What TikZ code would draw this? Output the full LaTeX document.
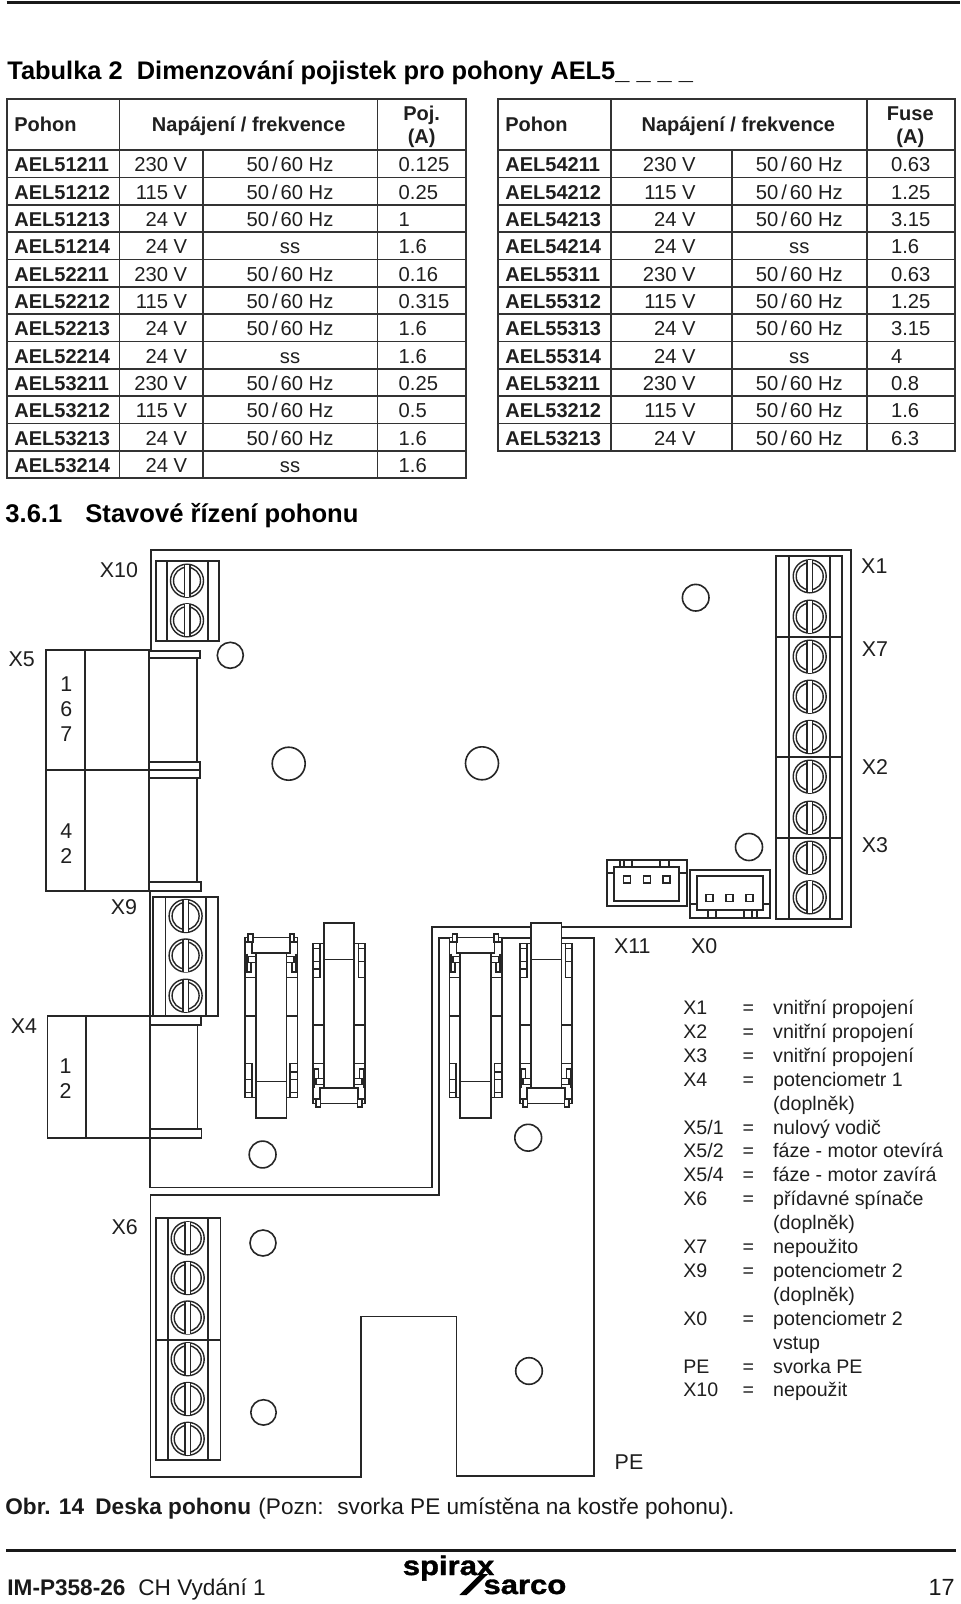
\documentclass[tikz,border=0pt]{standalone}
\usepackage{fontspec}
\setmainfont{Liberation Sans}
\newfontfamily\logofont[BoldFeatures={FakeBold=1.2}]{Liberation Sans}
\newcommand\hz{50\kern1.5pt/\kern1.5pt60 Hz}
\newcommand\sz[1]{\fontsize{#1pt}{#1pt}\selectfont}
\tikzset{
  cell/.style={font=\sz{10.1},inner sep=0,text=black!88},
  cellb/.style={font=\sz{10}\bfseries,inner sep=0,text=black!88},
  lbl/.style={font=\sz{10.7},inner sep=0,text=black!88},
  leg/.style={font=\sz{9.8},inner sep=0,text=black!88},
  head/.style={font=\sz{12.7}\bfseries,inner sep=0},
  capt/.style={font=\sz{11.3},inner sep=0,text=black!90},
  capb/.style={font=\sz{11.3}\bfseries,inner sep=0,text=black!90},
  grid/.style={line width=0.85pt,draw=black!80},
  ln/.style={line width=0.85pt,draw=black!85},
  hole/.style={line width=0.8pt,draw=black!85},
  screw/.pic={
    \draw[ln,line width=0.7pt] (0,0) circle[radius=16.5];
    \draw[ln,line width=0.7pt] (0,0) circle[radius=13.5];
    \fill[white] (-2.8,-16) rectangle (2.8,16);
    \draw[ln,line width=0.7pt] (-2.8,-16.2) -- (-2.8,16.2) (2.8,-16.2) -- (2.8,16.2);
  },
  relay/.pic={
    % body with tab
    \filldraw[ln,fill=white] (-26.2,-83.8) rectangle (26.2,71.5);
    \filldraw[ln,fill=white] (-19,-88.5) rectangle (19,-73);
    \filldraw[ln,fill=white] (-15.3,-73) rectangle (15.3,91.8);
    \draw[ln] (-15.3,55.5) -- (15.3,55.5);
    % top pins
    \filldraw[ln,fill=white] (-26.2,-88.5) rectangle (-19,-83.8);
    \filldraw[ln,fill=white] (19,-88.5) rectangle (26.2,-83.8);
    \filldraw[ln,fill=white] (-23,-91.8) rectangle (-18.5,-83.8);
    \filldraw[ln,fill=white] (18.5,-91.8) rectangle (23,-83.8);
    % latches
    \draw[ln] (-24.5,-72.5) -- (-24.5,-54) -- (-20.5,-54) -- (-20.5,-63);
    \draw[ln] (24.5,-72.5) -- (24.5,-54) -- (20.5,-54) -- (20.5,-63);
    \draw[ln] (-22.8,-69.5) rectangle (-15.3,-63.5);
    \draw[ln] (15.3,-69.5) rectangle (22.8,-63.5);
    % strip divisions
    \draw[ln] (-26.2,-48.5) -- (-15.3,-48.5) (15.3,-48.5) -- (26.2,-48.5);
    \draw[ln] (-26.2,-10) -- (-15.3,-10) (15.3,-10) -- (26.2,-10);
    % lower blocks
    \draw[ln] (-26.2,37.5) rectangle (-19.5,71.5);
    \draw[ln] (-26.2,53.5) -- (-19.5,53.5) (-26.2,66.5) -- (-19.5,66.5);
    \draw[ln] (19,37.5) rectangle (26.2,71.5);
    \draw[ln] (19,45.8) -- (26.2,45.8) (19,53.5) -- (26.2,53.5) (19,66.5) -- (26.2,66.5);
  }
}
\begin{document}
\begin{tikzpicture}[x=0.5pt,y=-0.5pt]
\useasboundingbox (0,0) rectangle (960,1604);
\fill[white] (0,0) rectangle (960,1604);

% rules
\draw[line width=1.5pt,black!90] (6.5,2.7) -- (960,2.7);
\draw[line width=1.6pt,black!90] (6,1550.7) -- (956,1550.7);

% headings
\node[head,anchor=base west] (t1a) at (7,80) {Tabulka 2};
\node[head,anchor=base west] (t1b) at (136.5,80) {Dimenzování pojistek pro pohony AEL5\_ \_ \_ \_};
\node[head,font=\sz{12.8}\bfseries,anchor=base west] (s1) at (5,522.7) {3.6.1};
\node[head,font=\sz{12.8}\bfseries,anchor=base west] (s2) at (85,522.7) {Stavové řízení pohonu};

% table 1
\draw[grid] (7,99) rectangle (466,478.3);
\draw[grid] (7,150) -- (466,150);
\draw[grid] (119.5,99) -- (119.5,478.3) (377.5,99) -- (377.5,478.3) (203,150) -- (203,478.3);
\foreach \i in {1,...,11} \draw[grid] (7,{150+27.36*\i}) -- (466,{150+27.36*\i});
\node[cellb,anchor=base west] (h1) at (14,132) {Pohon};
\node[cellb,anchor=base] (h2) at (248.7,132) {Napájení / frekvence};
\node[cellb,anchor=base] (h3) at (421.7,120.5) {Poj.};
\node[cellb,anchor=base] (h4) at (421.7,144) {(A)};
\foreach \n/\v/\h/\f [count=\i from 0] in {
 AEL51211/230 V/\hz/0.125, AEL51212/115 V/\hz/0.25, AEL51213/24 V/\hz/1, AEL51214/24 V/ss/1.6,
 AEL52211/230 V/\hz/0.16, AEL52212/115 V/\hz/0.315, AEL52213/24 V/\hz/1.6, AEL52214/24 V/ss/1.6,
 AEL53211/230 V/\hz/0.25, AEL53212/115 V/\hz/0.5, AEL53213/24 V/\hz/1.6, AEL53214/24 V/ss/1.6}{
  \node[cellb,anchor=base west] (an\i) at (14,{171.7+27.36*\i}) {\n};
  \node[cell,anchor=base east] (av\i) at (187.5,{171.7+27.36*\i}) {\v};
  \node[cell,anchor=base] (ah\i) at (290,{171.7+27.36*\i}) {\h};
  \node[cell,anchor=base west] (af\i) at (398.3,{171.7+27.36*\i}) {\f};
}

% table 2
\draw[grid] (497.7,99) rectangle (954.7,451);
\draw[grid] (497.7,150) -- (954.7,150);
\draw[grid] (610.7,99) -- (610.7,451) (866.7,99) -- (866.7,451) (732.3,150) -- (732.3,451);
\foreach \i in {1,...,10} \draw[grid] (497.7,{150+27.36*\i}) -- (954.7,{150+27.36*\i});
\node[cellb,anchor=base west] (k1) at (505,132) {Pohon};
\node[cellb,anchor=base] (k2) at (738.3,132) {Napájení / frekvence};
\node[cellb,anchor=base] (k3) at (910.3,120.5) {Fuse};
\node[cellb,anchor=base] (k4) at (910.3,144) {(A)};
\foreach \n/\v/\h/\f [count=\i from 0] in {
 AEL54211/230 V/\hz/0.63, AEL54212/115 V/\hz/1.25, AEL54213/24 V/\hz/3.15, AEL54214/24 V/ss/1.6,
 AEL55311/230 V/\hz/0.63, AEL55312/115 V/\hz/1.25, AEL55313/24 V/\hz/3.15, AEL55314/24 V/ss/4,
 AEL53211/230 V/\hz/0.8, AEL53212/115 V/\hz/1.6, AEL53213/24 V/\hz/6.3}{
  \node[cellb,anchor=base west] (bn\i) at (505,{171.7+27.36*\i}) {\n};
  \node[cell,anchor=base east] (bv\i) at (696,{171.7+27.36*\i}) {\v};
  \node[cell,anchor=base] (bh\i) at (799.3,{171.7+27.36*\i}) {\h};
  \node[cell,anchor=base west] (bf\i) at (890.7,{171.7+27.36*\i}) {\f};
}

% board outlines
\draw[ln] (151,650) -- (151,550.3) -- (851.3,550.3) -- (851.3,927) -- (431.8,927) -- (431.8,1187.4) -- (150,1187.4) -- (150,1137.7);
\draw[ln] (150,891.3) -- (150,1016.3);
\draw[ln] (439,938) -- (594.3,938) -- (594.3,1476) -- (456.6,1476) -- (456.6,1316.4) -- (361,1316.4) -- (361,1476.7) -- (150.4,1476.7) -- (150.4,1195) -- (439,1195) -- cycle;

% X10 terminal
\draw[ln] (156.3,560.7) rectangle (219,641.3);
\draw[ln] (166.7,560.7) -- (166.7,641.3) (207.7,560.7) -- (207.7,641.3);
\foreach \y in {580.7,620.3} \pic at (187,\y) {screw};

% X9 terminal
\draw[ln] (153.3,896.7) rectangle (218.3,1016.3);
\draw[ln] (165.4,896.7) -- (165.4,1016.3) (206.2,896.7) -- (206.2,1016.3);
\foreach \y in {916,955.5,995.7} \pic at (185.6,\y) {screw};

% X6 terminal
\draw[ln] (155.7,1218) rectangle (220.5,1460);
\draw[ln] (168,1218) -- (168,1460) (208,1218) -- (208,1460) (155.7,1339.7) -- (220.5,1339.7);
\foreach \y in {1238.3,1278,1317.5,1359.2,1399,1438.8} \pic at (187.7,\y) {screw};

% X1..X3 strip
\draw[ln] (776.3,556.3) rectangle (842.3,918.7);
\draw[ln] (788.7,556.3) -- (788.7,918.7) (830.3,556.3) -- (830.3,918.7);
\draw[ln] (776.3,637.3) -- (842.3,637.3) (776.3,756.7) -- (842.3,756.7) (776.3,838) -- (842.3,838);
\foreach \y in {576.3,616.7,656.7,696.7,737,776.7,817.7,857.7,897.3} \pic at (809.7,\y) {screw};

% X5 connector
\draw[ln] (45.7,650) rectangle (149,891.3);
\draw[ln] (85.3,650) -- (85.3,891.3) (45.7,770) -- (149,770);
\draw[ln] (149,650.7) rectangle (200,657.7);
\draw[ln] (149,657.7) rectangle (196.7,762.3);
\draw[ln] (149,762.3) rectangle (200.3,777.7);
\draw[ln] (149,770) -- (200.3,770);
\draw[ln] (149,777.7) rectangle (196.7,882);
\draw[ln] (149,882) rectangle (201,891.3);

% X4 connector
\draw[ln] (47.6,1016.3) rectangle (150,1137.7);
\draw[ln] (85.9,1016.3) -- (85.9,1137.7);
\draw[ln] (150,1016.3) rectangle (201.2,1025);
\draw[ln] (150,1025) rectangle (197.4,1129);
\draw[ln] (150,1129) rectangle (201.6,1137.7);

% X11 connector
\draw[ln] (606.7,860) rectangle (686.7,906.3);
\draw[ln] (613.7,867.3) rectangle (679.3,900.7);
\draw[ln] (620,860) -- (620,867.3) (624.3,860) -- (624.3,867.3) (632,860) -- (632,867.3) (660.3,860) -- (660.3,867.3) (669,860) -- (669,867.3);
\draw[ln] (606.7,873) -- (613.7,873) (679.3,873) -- (686.7,873);
\foreach \x in {627,647,666.7} \draw[ln] (\x-3.5,875.8) rectangle (\x+3.5,882.8);

% X0 connector
\draw[ln] (690,870.3) rectangle (770,917.7);
\draw[ln] (697.3,876.3) rectangle (763,909.7);
\draw[ln] (707.7,909.7) -- (707.7,917.7) (715.7,909.7) -- (715.7,917.7) (744.3,909.7) -- (744.3,917.7) (752.3,909.7) -- (752.3,917.7) (756.7,909.7) -- (756.7,917.7);
\draw[ln] (690,904) -- (697.3,904) (763,904) -- (770,904);
\foreach \x in {709.7,729.7,749.7} \draw[ln] (\x-3.5,894.5) rectangle (\x+3.5,901.5);

% relays
\pic (r1) at (271.2,1026) {relay};
\pic[rotate=180] (r2) at (339,1015) {relay};
\pic (r3) at (475.6,1026) {relay};
\pic[rotate=180] (r4) at (546.1,1015) {relay};

% holes
\foreach \x/\y/\r in {230.3/655.3/13, 288.7/763.7/16.5, 482/763.3/16.5, 695.7/597.7/13.3, 749/847/13.5,
  262.6/1154.5/13.4, 528.2/1137.7/13.4, 263/1243/13, 263.5/1412.4/12.7, 529/1371/13.3}
  \draw[hole] (\x,\y) circle[radius=\r];

% board labels
\node[lbl] (lX10) at (119,570) {X10};
\node[lbl] (lX5) at (21.7,659.3) {X5};
\node[lbl] (lX9) at (124,906.7) {X9};
\node[lbl] (lX1) at (874.3,566) {X1};
\node[lbl] (lX7) at (875,648.7) {X7};
\node[lbl] (lX2) at (875,767.3) {X2};
\node[lbl] (lX3) at (875,845.3) {X3};
\node[lbl] (lX11) at (632.3,946) {X11};
\node[lbl] (lX0) at (704.3,946) {X0};
\node[lbl] (lX4) at (24,1026.3) {X4};
\node[lbl] (lX6) at (124.6,1227.6) {X6};
\node[lbl] (lPE) at (629,1462.6) {PE};
\foreach \t/\x/\y in {1/66.3/684,6/66.3/709,7/66.3/734,4/66.3/830.7,2/66.3/855.7,1/65.7/1066,2/65.7/1090.6}
  \node[lbl] (d\t\y) at (\x,\y) {\t};

% legend
\foreach \r/\k/\t in {0/X1/vnitřní propojení,1/X2/vnitřní propojení,2/X3/vnitřní propojení,3/X4/potenciometr 1,
  8/X6/přídavné spínače,10/X7/nepoužito,11/X9/potenciometr 2,13/X0/potenciometr 2,15/PE/svorka PE,16/X10/nepoužit}{
  \node[leg,anchor=base west] (lk\r) at (683,{1014.5+23.9*\r}) {\k};
  \node[leg,anchor=base] (le\r) at (748.3,{1014.5+23.9*\r}) {=};
  \node[leg,anchor=base west] (lt\r) at (772.8,{1014.5+23.9*\r}) {\t};
}
\foreach \r/\k/\t in {5/1/nulový vodič,6/2/fáze - motor otevírá,7/4/fáze - motor zavírá}{
  \node[leg,anchor=base west] (lk\r) at (683,{1014.5+23.9*\r}) {X5/\k};
  \node[leg,anchor=base] (le\r) at (748.3,{1014.5+23.9*\r}) {=};
  \node[leg,anchor=base west] (lt\r) at (772.8,{1014.5+23.9*\r}) {\t};
}
\foreach \r/\t in {4/(doplněk),9/(doplněk),12/(doplněk),14/vstup}
  \node[leg,anchor=base west] (lt\r) at (772.8,{1014.5+23.9*\r}) {\t};

% caption
\node[capb,anchor=base west] (c1) at (5,1514.3) {Obr. 14};
\node[capb,anchor=base west] (c2) at (95,1514.3) {Deska pohonu};
\node[capt,anchor=base west] (c3) at (258,1514.3) {(Pozn:};
\node[capt,anchor=base west] (c4) at (337,1514.3) {svorka PE umístěna na kostře pohonu).};

% footer
\node[capb,anchor=base west] (f1) at (7,1595.7) {IM-P358-26};
\node[capt,anchor=base west] (f2) at (138,1595.7) {CH Vydání 1};
\node[inner sep=0,anchor=base east,font=\sz{11.7},text=black!90] (f3) at (955,1595.7) {17};

% logo
\fill[black] (459.3,1595) -- (466.7,1595) -- (488,1574) -- (480.5,1574) -- cycle;
\node[inner sep=0,anchor=base west,font=\logofont\sz{13.5}\bfseries,xscale=1.15,transform shape] (g1) at (402.3,1575) {spirax};
\node[inner sep=0,anchor=base west,font=\logofont\sz{13.5}\bfseries,xscale=1.15,transform shape] (g2) at (483,1594) {sarco};
\end{tikzpicture}
\end{document}
